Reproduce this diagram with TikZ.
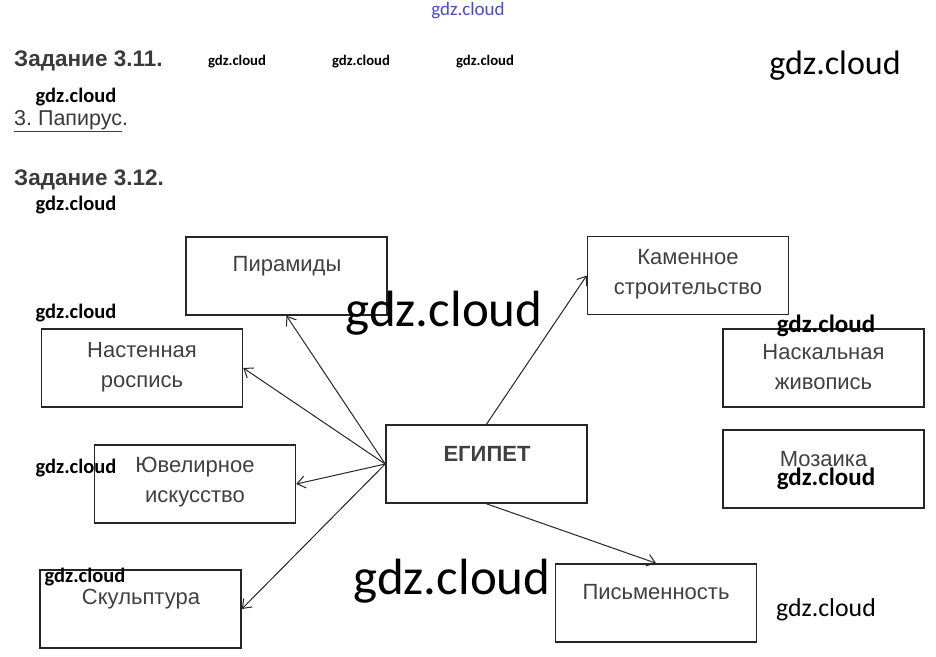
\documentclass[tikz,border=0pt]{standalone}
\usepackage{fontspec}
\setmainfont{Liberation Sans}
\newfontfamily\wmfont{Carlito}
\usetikzlibrary{arrows.meta}
\definecolor{boxtext}{HTML}{404040}
\definecolor{headtext}{HTML}{3A3A3A}
\definecolor{wmblue}{HTML}{4A4AD0}
\begin{document}
\begin{tikzpicture}[x=1pt,y=-1pt,
  box/.style={draw=black!85, line width=1.6pt, rectangle, minimum width=201pt, minimum height=78pt, inner sep=0pt},
  boxlabel/.style={text=boxtext, font=\fontsize{22}{30}\selectfont, align=center, inner sep=0pt},
  conn/.style={draw=black!85, line width=1pt, -{Straight Barb[length=8pt,width=12pt]}},
  head/.style={text=headtext, anchor=west, inner sep=0pt, font=\bfseries\fontsize{22.5}{26}\selectfont},
  wmb/.style={inner sep=0pt, font=\wmfont\bfseries\fontsize{#1}{#1}\selectfont},
  wmr/.style={inner sep=0pt, font=\wmfont\fontsize{#1}{#1}\selectfont}]
\useasboundingbox (0,0) rectangle (936,656);
\fill[white] (0,0) rectangle (936,656);

% headings
\node[head] (h1) at (14,61) {Задание 3.11.};
\node[head] (h2) at (14,180) {Задание 3.12.};
\node[text=headtext, anchor=west, inner sep=0pt, font=\fontsize{21.5}{24}\selectfont] (ans) at (14,121) {\underline{3.~Папирус}.};

% boxes
\node[box] (pyr) at (286.5,276) {};
\node[box] (stone) at (688,275.5) {};
\node[box] (wall) at (142,368) {};
\node[box] (rock) at (823.5,368) {};
\node[box] (egypt) at (486.5,464) {};
\node[box] (mosaic) at (823.5,469) {};
\node[box] (jewel) at (195,484) {};
\node[box] (sculpt) at (140.5,609) {};
\node[box] (writing) at (656,603) {};

% box texts
\node[boxlabel] (tpyr) at (287,266) {Пирамиды};
\node[boxlabel] (tstone) at (688,274) {Каменное\\строительство};
\node[boxlabel] (twall) at (142,367) {Настенная\\роспись};
\node[boxlabel] (trock) at (823.5,367) {Наскальная\\живопись};
\node[boxlabel, font=\bfseries\fontsize{22}{26}\selectfont] (tegypt) at (487,454) {ЕГИПЕТ};
\node[boxlabel] (tmosaic) at (823.5,459) {Мозаика};
\node[boxlabel] (tjewel) at (195,482) {Ювелирное\\искусство};
\node[boxlabel] (tsculpt) at (141,599) {Скульптура};
\node[boxlabel] (twriting) at (656,592) {Письменность};

% connectors
\draw[conn] (egypt.west) -- (pyr.south);
\draw[conn] (egypt.west) -- (wall.east);
\draw[conn] (egypt.west) -- (jewel.east);
\draw[conn] (egypt.west) -- (sculpt.east);
\draw[conn] (egypt.north) -- (stone.west);
\draw[conn] (egypt.south) -- (writing.north);

% watermarks
\node[wmr=19, text=wmblue] (w0) at (468,11) {gdz.cloud};
\node[wmb=14.7] (w1) at (237,62) {gdz.cloud};
\node[wmb=14.7] (w2) at (361,62) {gdz.cloud};
\node[wmb=14.7] (w3) at (485,62) {gdz.cloud};
\node[wmr=34] (w4) at (835,66) {gdz.cloud};
\node[wmb=20.5] (w5) at (76,97) {gdz.cloud};
\node[wmb=20.5] (w6) at (76,205) {gdz.cloud};
\node[wmb=20.5] (w7) at (76,313) {gdz.cloud};
\node[wmr=51] (w8) at (444,313) {gdz.cloud};
\node[wmb=25] (w9) at (826,326) {gdz.cloud};
\node[wmb=25] (w10) at (826,479) {gdz.cloud};
\node[wmb=20.5] (w11) at (76,468) {gdz.cloud};
\node[wmb=20.5] (w12) at (85,577) {gdz.cloud};
\node[wmr=51] (w13) at (452,581) {gdz.cloud};
\node[wmr=25.8] (w14) at (826,610) {gdz.cloud};
\end{tikzpicture}
\end{document}
